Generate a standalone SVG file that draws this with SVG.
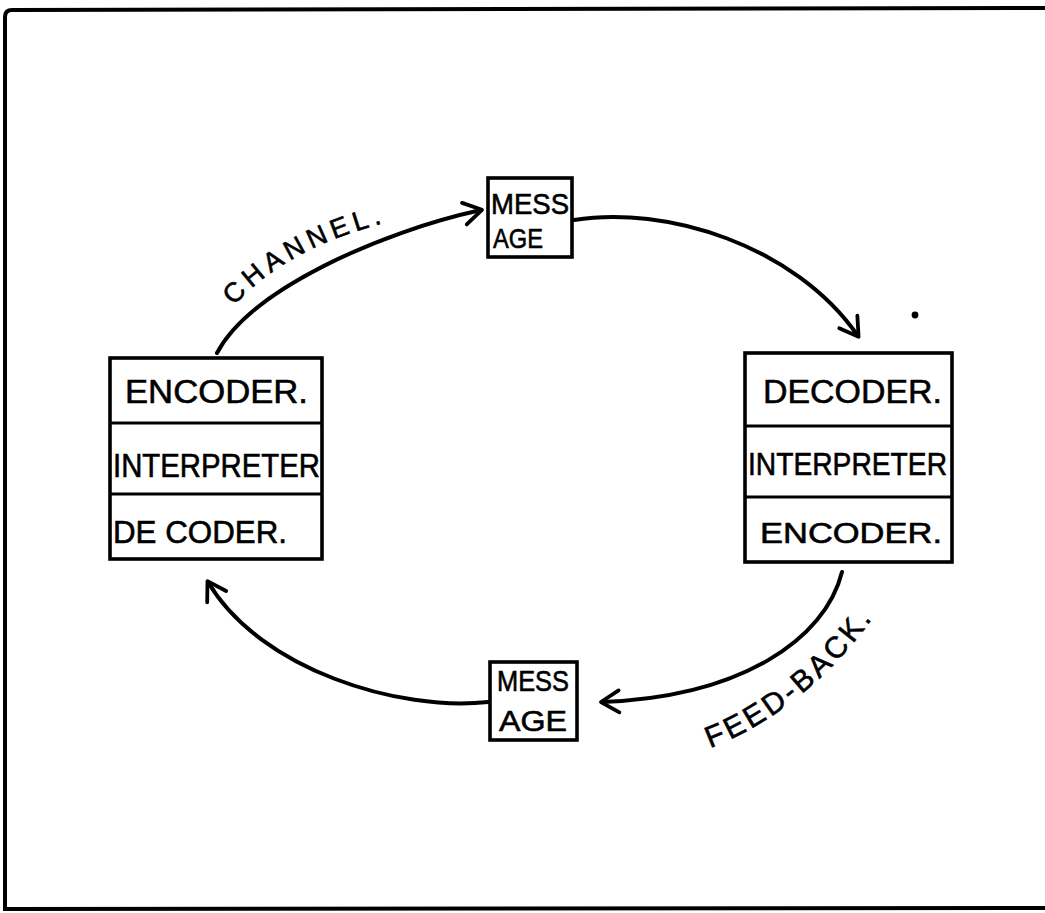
<svg xmlns="http://www.w3.org/2000/svg" width="1045" height="913" viewBox="0 0 1045 913">
<style>
.bx{fill:#fff;stroke:#000;stroke-width:3.6}
.dv{stroke:#000;stroke-width:3.2}
.t{font-family:"Liberation Sans","DejaVu Sans",sans-serif;fill:#000;stroke:#000;stroke-width:0.6}
.cn{fill:none;stroke:#000;stroke-width:4;stroke-linecap:round}
.lbl{font-family:"Liberation Sans","DejaVu Sans",sans-serif;fill:#000;stroke:#000;stroke-width:0.6}
</style>
<defs>
<marker id="ah" markerUnits="userSpaceOnUse" markerWidth="40" markerHeight="40" refX="20" refY="20" orient="auto" overflow="visible">
<path d="M3 9 L21 20 L3 31" fill="none" stroke="#000" stroke-width="3.8" stroke-linecap="round" stroke-linejoin="round"/>
</marker>
</defs>
<rect width="1045" height="913" fill="#fff"/>
<path d="M1045 8 L12 10 Q5 10 5 17 L5 909 L1045 908" fill="none" stroke="#000" stroke-width="4"/>
<circle cx="915" cy="315" r="3.4" fill="#000"/>
<g id="connectors">
<path class="cn" d="M217 353 C250 290 380 232 481 210" marker-end="url(#ah)"/>
<path class="cn" d="M574 220 C665 205 795 245 858 336" marker-end="url(#ah)"/>
<path class="cn" d="M842 572 C825 640 740 697 602 702" marker-end="url(#ah)"/>
<path class="cn" d="M488 702 C400 712 260 670 208 582" marker-end="url(#ah)"/>
<path id="p1" d="M234 306 C275 260 335 234 404 218" fill="none"/>
<text class="lbl" font-size="27"><textPath href="#p1" textLength="172" lengthAdjust="spacing">CHANNEL.</textPath></text>
<path id="p2" d="M710 748 C775 724 846 666 888 594" fill="none"/>
<text class="lbl" font-size="30"><textPath href="#p2" textLength="210" lengthAdjust="spacing">FEED-BACK.</textPath></text>
</g>
<g id="msg-top">
<rect class="bx" x="488" y="178" width="84" height="79"/>
<text class="t" x="491" y="214" font-size="29" textLength="78" lengthAdjust="spacingAndGlyphs">MESS</text>
<text class="t" x="493" y="248" font-size="28" textLength="50" lengthAdjust="spacingAndGlyphs">AGE</text>
</g>
<g id="sender">
<rect class="bx" x="110" y="358" width="212" height="201"/>
<line class="dv" x1="110" y1="423" x2="322" y2="423"/>
<line class="dv" x1="110" y1="494" x2="322" y2="494"/>
<text class="t" x="125" y="403" font-size="34" textLength="183" lengthAdjust="spacingAndGlyphs">ENCODER.</text>
<text class="t" x="113" y="477" font-size="33" textLength="207" lengthAdjust="spacingAndGlyphs">INTERPRETER</text>
<text class="t" x="113" y="543" font-size="32" textLength="174" lengthAdjust="spacingAndGlyphs">DE CODER.</text>
</g>
<g id="receiver">
<rect class="bx" x="745" y="353" width="207" height="209"/>
<line class="dv" x1="745" y1="426" x2="952" y2="426"/>
<line class="dv" x1="745" y1="497" x2="952" y2="497"/>
<text class="t" x="763" y="403" font-size="34" textLength="179" lengthAdjust="spacingAndGlyphs">DECODER.</text>
<text class="t" x="748" y="475" font-size="32" textLength="199" lengthAdjust="spacingAndGlyphs">INTERPRETER</text>
<text class="t" x="760" y="543" font-size="30" textLength="182" lengthAdjust="spacingAndGlyphs">ENCODER.</text>
</g>
<g id="msg-bottom">
<rect class="bx" x="490" y="662" width="87" height="78"/>
<text class="t" x="497" y="691" font-size="29" textLength="72" lengthAdjust="spacingAndGlyphs">MESS</text>
<text class="t" x="499" y="731" font-size="29" textLength="68" lengthAdjust="spacingAndGlyphs">AGE</text>
</g>
</svg>
